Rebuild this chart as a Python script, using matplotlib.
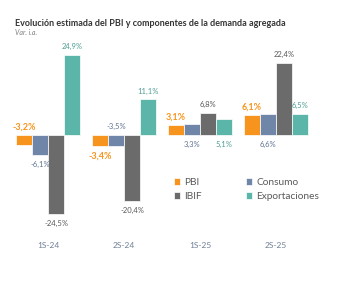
import numpy as np
import matplotlib.pyplot as plt

# Data
periods = ['1S-24', '2S-24', '1S-25', '2S-25']
series = ['PBI', 'Consumo', 'IBIF', 'Exportaciones']
pbi = [-3.2, -3.4, 3.1, 6.1]
consumo = [-6.1, -3.5, 3.3, 6.6]
ibif = [-24.5, -20.4, 6.8, 22.4]
expo = [24.9, 11.1, 5.1, 6.5]
# label placement: 'out' = outside end, 'up' = above zero, 'down' = below zero
pos_pbi = ['up', 'out', 'out', 'out']
pos_consumo = ['out', 'up', 'down', 'down']
pos_ibif = ['out', 'out', 'out', 'out']
pos_expo = ['out', 'out', 'down', 'out']

colors = ['#F7941D', '#6F86A8', '#6B6B6B', '#5BB5A8']
label_colors = ['#F7941D', '#5F7491', '#595959', '#4F9E93']

plt.rcParams['font.family'] = ['Lato', 'DejaVu Sans']

fig = plt.figure(figsize=(3.5, 2.89), dpi=100)
ax = fig.add_axes([0.029, 0.1765, 0.868, 0.6675])

x = np.arange(len(periods))
w = 0.21
data = [pbi, consumo, ibif, expo]
positions = [pos_pbi, pos_consumo, pos_ibif, pos_expo]
handles = []
for i, (vals, name) in enumerate(zip(data, series)):
    xs = x + (i - 1.5) * w
    b = ax.bar(xs, vals, w, color=colors[i], edgecolor='white', linewidth=0.5, label=name)
    handles.append(b)
    for xi, v, p in zip(xs, vals, positions[i]):
        txt = ('%.1f%%' % v).replace('.', ',')
        if p == 'out':
            y, dy = v, (6 if v >= 0 else -7)
        elif p == 'up':
            y, dy = 0, 6
        else:
            y, dy = 0, -7
        bold = i == 0
        ax.annotate(txt, (xi, y), xytext=(0, dy), textcoords='offset points',
                    ha='center', va='center', color=label_colors[i],
                    fontsize=6.5 if bold else 5.5,
                    fontweight='bold' if bold else 'normal')

ax.set_xlim(-0.5, 3.5)
ax.set_ylim(-32, 28)
ax.set_xticks(x)
ax.set_xticklabels(periods, fontsize=6, color='#6F7F95')
ax.tick_params(axis='x', length=0, pad=3)
ax.set_yticks([])
for s in ax.spines.values():
    s.set_visible(False)

# legend rows: PBI / Consumo, IBIF / Exportaciones
order = [0, 2, 1, 3]
fig.legend([handles[k] for k in order], [series[k] for k in order],
           loc='upper left', bbox_to_anchor=(0.47, 0.415), ncol=2,
           frameon=False, fontsize=7.3, handlelength=0.6, handleheight=0.6,
           handletextpad=0.4, columnspacing=4.4, labelspacing=0.5,
           labelcolor='#595959')

fig.text(0.043, 0.92, 'Evolución estimada del PBI y componentes de la demanda agregada',
         fontsize=6.5, fontweight='bold', color='#333333', va='center')
fig.text(0.043, 0.888, 'Var. i.a.', fontsize=5, style='italic', color='#7F7F7F', va='center')

fig.savefig('out.png', dpi=100)
